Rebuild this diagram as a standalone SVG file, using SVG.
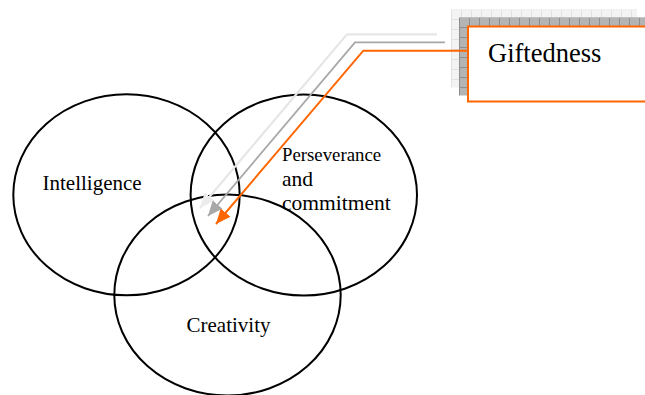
<svg xmlns="http://www.w3.org/2000/svg" width="645" height="395" viewBox="0 0 645 395">
<style>
.circ{fill:none;stroke:#000;stroke-width:2}
.lbl{font-family:"Liberation Serif","Times New Roman",serif;fill:#000}
</style>
<defs>
<pattern id="gridL" width="10" height="10" patternUnits="userSpaceOnUse" x="451" y="9">
<rect width="10" height="10" fill="#f3f3f3"/>
<path d="M0 0.5H10M0.5 0V10" stroke="#e2e2e2" stroke-width="1"/>
</pattern>
<pattern id="gridD" width="10" height="10" patternUnits="userSpaceOnUse" x="459" y="17">
<rect width="10" height="10" fill="#b4b4b4"/>
<path d="M0 0.5H10M0.5 0V10" stroke="#8e8e8e" stroke-width="1"/>
</pattern>
<marker id="arrO" markerWidth="15" markerHeight="13" refX="15" refY="6.5" orient="auto" markerUnits="userSpaceOnUse">
<path d="M0 0L15 6.5L0 13Z" fill="#ff6600"/>
</marker>
<marker id="arrD" markerWidth="15" markerHeight="13" refX="15" refY="6.5" orient="auto" markerUnits="userSpaceOnUse">
<path d="M0 0L15 6.5L0 13Z" fill="#a8a8a8"/>
</marker>
<marker id="arrL" markerWidth="15" markerHeight="13" refX="15" refY="6.5" orient="auto" markerUnits="userSpaceOnUse">
<path d="M0 0L15 6.5L0 13Z" fill="#ececec"/>
</marker>
</defs>
<rect width="645" height="395" fill="#fff"/>

<g id="intelligence">
<ellipse class="circ" cx="126.5" cy="194.8" rx="113.2" ry="100.5"/>
<text class="lbl" x="42.5" y="190" font-size="21">Intelligence</text>
</g>
<g id="perseverance">
<ellipse class="circ" cx="303.8" cy="195" rx="113.2" ry="100.5"/>
<text class="lbl" x="282" y="161" font-size="18.8">Perseverance</text>
<text class="lbl" x="282" y="185.5" font-size="21.5">and</text>
<text class="lbl" x="282" y="210" font-size="21.5">commitment</text>
</g>
<g id="creativity">
<ellipse class="circ" cx="227.5" cy="295" rx="113.2" ry="100.5"/>
<text class="lbl" x="186.5" y="332" font-size="21">Creativity</text>
</g>

<g id="giftedness">
<rect x="451" y="9.5" width="186" height="78" fill="url(#gridL)"/>
<rect x="459" y="17.5" width="190" height="78" fill="url(#gridD)"/>
<rect x="468" y="26.5" width="185" height="75" fill="#fff" stroke="#ff6600" stroke-width="2"/>
<text class="lbl" x="488" y="62" font-size="26.5">Giftedness</text>
</g>

<g id="connectors" fill="none">
<polyline points="437,34.3 347,34.3 200,208" stroke="#e6e6e6" stroke-width="2.2" marker-end="url(#arrL)"/>
<polyline points="445,42.3 355,42.3 208,216" stroke="#a8a8a8" stroke-width="1.8" marker-end="url(#arrD)"/>
<polyline points="468,50.7 363.3,50.7 216,224" stroke="#ff6600" stroke-width="2" marker-end="url(#arrO)"/>
</g>
</svg>
